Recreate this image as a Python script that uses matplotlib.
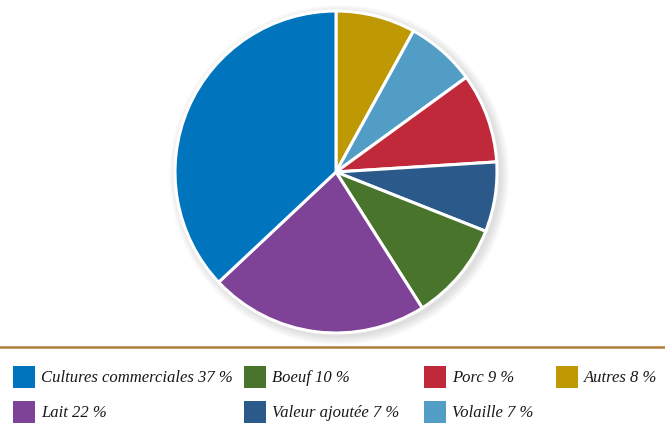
import matplotlib
matplotlib.use("Agg")
import matplotlib.pyplot as plt
from matplotlib.patches import Rectangle, Circle
from matplotlib.lines import Line2D

# pie slices, clockwise from 12 o'clock
pie_labels = ["Autres", "Volaille", "Porc", "Valeur ajoutée", "Boeuf", "Lait",
              "Cultures commerciales"]
pie_values = [8, 7, 9, 7, 10, 22, 37]
pie_colors = ["#BF9904", "#529DC6", "#C0293A", "#2B5A8A", "#48742C", "#7E4397",
              "#0075BE"]

# legend order, row by row
legend_order = ["Cultures commerciales", "Boeuf", "Porc", "Autres",
                "Lait", "Valeur ajoutée", "Volaille"]

W, H = 665, 424
fig = plt.figure(figsize=(W / 100, H / 100), dpi=100)
fig.patch.set_facecolor("white")

cx, cy, r = 336, 172, 161
ax = fig.add_axes([(cx - r) / W, (H - cy - r) / H, 2 * r / W, 2 * r / H])
ax.axis("off")

# soft drop shadow under the pie
for i in range(8):
    ax.add_patch(Circle((0.02, -0.018), 1.0 + 0.007 * (8 - i), color="black",
                        alpha=0.014, lw=0, zorder=0, clip_on=False))

wedges, _ = ax.pie(pie_values, colors=pie_colors, startangle=90,
                   counterclock=False, radius=1.0,
                   wedgeprops=dict(edgecolor="white", linewidth=2.2),
                   frame=False)
for w in wedges:
    w.set_clip_on(False)
ax.set_xlim(-1.0, 1.0)
ax.set_ylim(-1.0, 1.0)
ax.set_aspect("equal")

# separator line above the legend
fig.add_artist(Line2D([0, 1], [1 - 347 / H, 1 - 347 / H], color="#B07C3A",
                      lw=1.8, transform=fig.transFigure))

col_x = [13, 244, 424, 556]
row_y = [377, 412]
color_of = dict(zip(pie_labels, pie_colors))
value_of = dict(zip(pie_labels, pie_values))
for i, name in enumerate(legend_order):
    x = col_x[i % 4]
    y = row_y[i // 4]
    fig.add_artist(Rectangle((x / W, 1 - (y + 11) / H), 22 / W, 22 / H,
                             facecolor=color_of[name], edgecolor="none",
                             transform=fig.transFigure))
    fig.text((x + 28) / W, 1 - (y + 1) / H, f"{name} {value_of[name]} %",
             fontsize=12, family="Liberation Serif", style="italic",
             color="#1A1718", va="center", ha="left")

fig.savefig("out.png", dpi=100, facecolor="white")
